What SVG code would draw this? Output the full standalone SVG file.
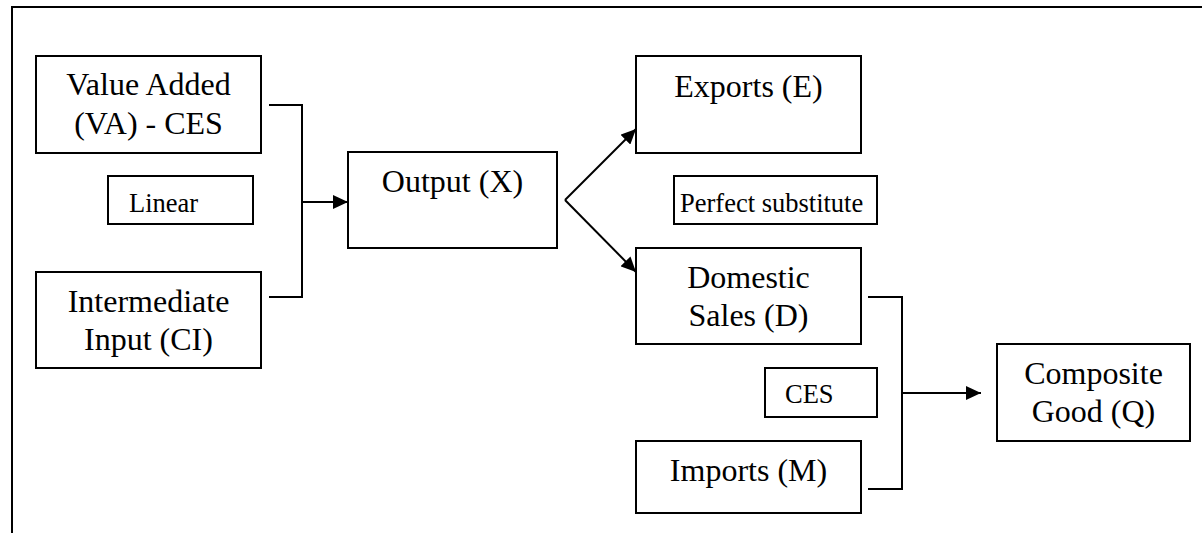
<svg xmlns="http://www.w3.org/2000/svg" width="1202" height="533" viewBox="0 0 1202 533">
<style>
.box{fill:#fff;stroke:#000;stroke-width:2}
.big{font-family:"Liberation Serif","Times New Roman",serif;font-size:32px;fill:#000;text-anchor:middle}
.small{font-family:"Liberation Serif","Times New Roman",serif;font-size:26.5px;fill:#000}
.line{fill:none;stroke:#000;stroke-width:2}
</style>
<defs>
<marker id="arr" viewBox="0 0 15 14" refX="15" refY="7" markerWidth="15" markerHeight="14" markerUnits="userSpaceOnUse" orient="auto">
<path d="M0,0 L15,7 L0,14 Z" fill="#000"/>
</marker>
</defs>
<rect width="1202" height="533" fill="#fff"/>
<path class="line" d="M12,533 V7 H1202"/>
<g id="va"><rect class="box" x="36" y="56" width="225" height="97"/><text class="big" x="148.5" y="95">Value Added</text><text class="big" x="148.5" y="134">(VA) - CES</text></g>
<g id="linear"><rect class="box" x="108" y="176" width="145" height="48"/><text class="small" x="129" y="212">Linear</text></g>
<g id="ci"><rect class="box" x="36" y="272" width="225" height="96"/><text class="big" x="148.5" y="312">Intermediate</text><text class="big" x="148.5" y="350">Input (CI)</text></g>
<g id="output"><rect class="box" x="348" y="152" width="209" height="96"/><text class="big" x="452.5" y="192">Output (X)</text></g>
<g id="exports"><rect class="box" x="636" y="56" width="225" height="97"/><text class="big" x="748.5" y="97">Exports (E)</text></g>
<g id="perfect"><rect class="box" x="674" y="176" width="203" height="48"/><text class="small" x="680" y="212">Perfect substitute</text></g>
<g id="domestic"><rect class="box" x="636" y="248" width="225" height="96"/><text class="big" x="748.5" y="288">Domestic</text><text class="big" x="748.5" y="326">Sales (D)</text></g>
<g id="ces"><rect class="box" x="765" y="368" width="112" height="49"/><text class="small" x="785" y="403">CES</text></g>
<g id="imports"><rect class="box" x="636" y="441" width="225" height="72"/><text class="big" x="748.5" y="481">Imports (M)</text></g>
<g id="composite"><rect class="box" x="997" y="344" width="193" height="97"/><text class="big" x="1093.5" y="384">Composite</text><text class="big" x="1093.5" y="422">Good (Q)</text></g>
<g id="connectors">
<path class="line" d="M269,105 H302 V297 H269"/>
<path class="line" d="M302,202 H348" marker-end="url(#arr)"/>
<path class="line" d="M565,200 L636,129" marker-end="url(#arr)"/>
<path class="line" d="M565,200 L636,272" marker-end="url(#arr)"/>
<path class="line" d="M868,297 H902 V489 H868"/>
<path class="line" d="M902,393 H981" marker-end="url(#arr)"/>
</g>
</svg>
